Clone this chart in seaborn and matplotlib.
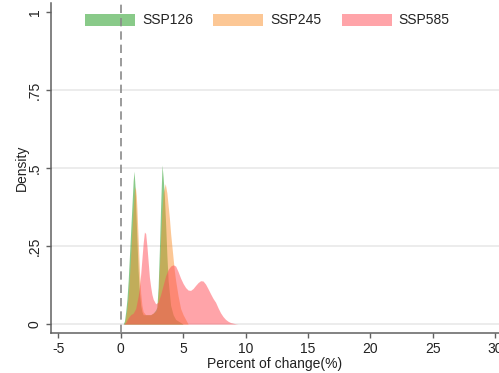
import matplotlib
matplotlib.use("Agg")
import matplotlib.pyplot as plt
from matplotlib.patches import Patch
import seaborn as sns
import pandas as pd

# Kernel density estimates of percent change, per scenario
ssp126_x = [0.2, 0.3, 0.4, 0.5, 0.6, 0.7, 0.8, 0.9, 1.0, 1.07, 1.15, 1.2, 1.3, 1.4, 1.5, 1.6, 1.7, 1.8,
            2.0, 2.2, 2.4, 2.6, 2.8, 2.9, 3.0, 3.1, 3.2, 3.31, 3.4, 3.5, 3.6, 3.7, 3.8, 4.0, 4.2,
            4.4, 4.6, 4.8, 5.0]
ssp126_d = [0.0, 0.01, 0.04, 0.08, 0.14, 0.22, 0.30, 0.38, 0.46, 0.49, 0.44, 0.38, 0.27, 0.17, 0.10, 0.06, 0.04, 0.03,
            0.03, 0.03, 0.03, 0.035, 0.045, 0.055, 0.12, 0.24, 0.38, 0.51, 0.47, 0.41, 0.32, 0.22, 0.14, 0.06, 0.03,
            0.015, 0.01, 0.005, 0.0]

ssp245_x = [0.2, 0.3, 0.4, 0.5, 0.6, 0.7, 0.8, 0.9, 1.0, 1.1, 1.17, 1.25, 1.3, 1.4, 1.5, 1.6, 1.7, 1.8,
            2.0, 2.2, 2.4, 2.6, 2.8, 2.9, 3.0, 3.1, 3.2, 3.3, 3.4, 3.57, 3.7, 3.8, 3.9, 4.0, 4.1, 4.2,
            4.3, 4.4, 4.6, 4.8, 5.0, 5.2, 5.4]
ssp245_d = [0.0, 0.0, 0.02, 0.05, 0.09, 0.15, 0.22, 0.30, 0.37, 0.43, 0.44, 0.41, 0.37, 0.27, 0.17, 0.10, 0.06, 0.04,
            0.03, 0.03, 0.03, 0.035, 0.04, 0.05, 0.09, 0.18, 0.28, 0.36, 0.42, 0.45, 0.42, 0.38, 0.34, 0.29, 0.25, 0.21,
            0.17, 0.14, 0.09, 0.05, 0.03, 0.015, 0.0]

ssp585_x = [0.2, 0.4, 0.6, 0.8, 1.0, 1.2, 1.4, 1.5, 1.6, 1.7, 1.8, 1.9, 2.0, 2.1, 2.2, 2.3, 2.4, 2.5,
            2.6, 2.8, 3.0, 3.2, 3.4, 3.6, 3.8, 4.0, 4.2, 4.4, 4.6, 4.8, 5.0, 5.2, 5.4, 5.6, 5.8,
            6.0, 6.2, 6.4, 6.6, 6.8, 7.0, 7.2, 7.4, 7.6, 7.8, 8.0, 8.2, 8.4, 8.6, 8.8, 9.0, 9.2, 9.4]
ssp585_d = [0.0, 0.005, 0.02, 0.03, 0.035, 0.05, 0.09, 0.12, 0.16, 0.21, 0.26, 0.295, 0.29, 0.25, 0.20, 0.15, 0.12, 0.095,
            0.08, 0.065, 0.07, 0.095, 0.125, 0.155, 0.175, 0.186, 0.19, 0.186, 0.168, 0.147, 0.13, 0.117, 0.109, 0.108, 0.114,
            0.124, 0.133, 0.139, 0.138, 0.128, 0.113, 0.097, 0.082, 0.07, 0.052, 0.036, 0.024, 0.015, 0.009, 0.005, 0.003, 0.001, 0.0]

scenarios = ["SSP126", "SSP245", "SSP585"]
colors = ["#149614", "#fa912d", "#ff4b55"]

x_ticks = [-5, 0, 5, 10, 15, 20, 25, 30]
y_ticks = [0, 0.25, 0.5, 0.75, 1]
y_tick_labels = ["0", ".25", ".5", ".75", "1"]

frames = []
for name, xs, ds in zip(scenarios,
                        [ssp126_x, ssp245_x, ssp585_x],
                        [ssp126_d, ssp245_d, ssp585_d]):
    frames.append(pd.DataFrame({"x": xs, "density": ds, "scenario": name}))
df = pd.concat(frames, ignore_index=True)

sns.set_theme(style="white")
plt.rcParams["font.family"] = ["Liberation Sans", "DejaVu Sans"]

fig = plt.figure(figsize=(4.99, 3.73), dpi=100)
ax = fig.add_axes([50.7 / 499, 1 - 332.5 / 373, 1 - 50.7 / 499, (332.5 - 3) / 373])

# grid lines (none at the top value)
for yv in y_ticks[:-1]:
    ax.axhline(yv, color="#ebebeb", lw=1.3, zorder=0)

sns.lineplot(data=df, x="x", y="density", hue="scenario", palette=dict(zip(scenarios, colors)),
             lw=0, legend=False, ax=ax, sort=False)
for i, (name, col) in enumerate(zip(scenarios, colors)):
    sub = df[df["scenario"] == name]
    ax.fill_between(sub["x"], 0, sub["density"], color=col, alpha=0.5, lw=0, zorder=2 + i)

ax.axvline(0, color="#8a8a8a", lw=1.2, ls=(0, (5, 3)), zorder=8)

ax.set_xlim(-5.61, 30.31)
ax.set_ylim(-0.027, 1.029)
ax.set_xticks(x_ticks)
ax.set_xticklabels([str(v) for v in x_ticks])
ax.set_yticks(y_ticks)
ax.set_yticklabels(y_tick_labels, rotation=90, va="center")

for s in ["top", "right"]:
    ax.spines[s].set_visible(False)
for s in ["left", "bottom"]:
    ax.spines[s].set_color("#606060")
    ax.spines[s].set_linewidth(1.1)

ax.tick_params(axis="both", which="both", direction="out", length=3.5, width=1.0,
               color="#606060", labelsize=10, labelcolor="#222222", pad=3,
               bottom=True, left=True)
ax.set_xlabel("Percent of change(%)", fontsize=10, color="#222222", labelpad=1)
ax.set_ylabel("Density", fontsize=10, color="#222222", labelpad=-1)

handles = [Patch(facecolor=c, alpha=0.5, edgecolor="none") for c in colors]
leg = ax.legend(handles, scenarios, loc="center", bbox_to_anchor=(267.5 / 499, 1 - 20.5 / 373),
                bbox_transform=fig.transFigure, ncol=3, frameon=False, fontsize=10,
                handlelength=3.6, handleheight=1.0, handletextpad=0.5, columnspacing=1.45,
                labelcolor="#222222")
leg.set_zorder(6)

fig.savefig("out.png", dpi=100)
